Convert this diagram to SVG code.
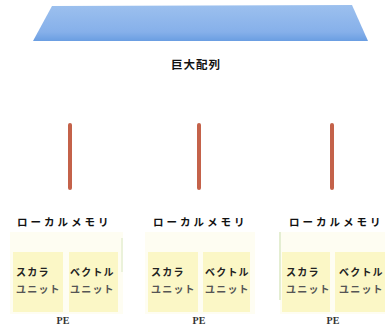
<svg xmlns="http://www.w3.org/2000/svg" width="385" height="329" viewBox="0 0 385 329">
<defs>
<linearGradient id="bar" x1="0" y1="0" x2="0" y2="1">
<stop offset="0" stop-color="#9cc0ee"/>
<stop offset="0.75" stop-color="#86b0ea"/>
<stop offset="1" stop-color="#6a9ee2"/>
</linearGradient>
<style>
.lbl{font-family:"Noto Sans CJK JP","Noto Sans",sans-serif;font-weight:bold;fill:#111}
.lm{font-size:10.5px;letter-spacing:3px}
.u{font-family:"Noto Sans CJK JP",sans-serif;font-size:10px;font-weight:bold;fill:#222;letter-spacing:1.2px}
.u2{fill:#555}
.pe{font-family:"Liberation Serif",serif;font-size:10px;font-weight:bold;fill:#333}
.box{fill:#fbf7c6}
.outer{fill:#fefdf2}
.link{stroke:#c4624a;stroke-width:4;stroke-linecap:round}
</style>
</defs>
<g id="array">
<polygon points="52,6 352,5 368,41 33,41" fill="url(#bar)"/>
<text class="lbl" x="196" y="69" font-size="11.5" text-anchor="middle" letter-spacing="1">巨大配列</text>
</g>
<g id="connectors">
<line class="link" x1="70" y1="125" x2="70" y2="188"/>
<line class="link" x1="199" y1="125" x2="199" y2="188"/>
<line class="link" x1="332" y1="125" x2="332" y2="188"/>
</g>
<g id="pe1">
<rect class="outer" x="10" y="232" width="113" height="82"/>
<line x1="122" y1="238" x2="122" y2="272" stroke="#e4eed2" stroke-width="1.5"/>
<text class="lbl lm" x="17" y="226">ローカルメモリ</text>
<rect class="box" x="13" y="252" width="50" height="60"/>
<rect class="box" x="69" y="252" width="49" height="60"/>
<text class="u" x="16" y="276">スカラ</text>
<text class="u" x="70" y="276">ベクトル</text>
<text class="u u2" x="16" y="293">ユニット</text>
<text class="u u2" x="70" y="293">ユニット</text>
<text class="pe" x="63" y="324" text-anchor="middle">PE</text>
</g>
<g id="pe2">
<rect class="outer" x="145" y="232" width="110" height="82"/>
<text class="lbl lm" x="153" y="226">ローカルメモリ</text>
<rect class="box" x="148" y="252" width="50" height="60"/>
<rect class="box" x="203" y="252" width="47" height="60"/>
<text class="u" x="151" y="276">スカラ</text>
<text class="u" x="205" y="276">ベクトル</text>
<text class="u u2" x="151" y="293">ユニット</text>
<text class="u u2" x="205" y="293">ユニット</text>
<text class="pe" x="199" y="324" text-anchor="middle">PE</text>
</g>
<g id="pe3">
<rect class="outer" x="280" y="232" width="105" height="82"/>
<line x1="280" y1="232" x2="280" y2="300" stroke="#e4eed2" stroke-width="2"/>
<text class="lbl lm" x="289" y="226">ローカルメモリ</text>
<rect class="box" x="282" y="252" width="48" height="60"/>
<rect class="box" x="335" y="252" width="50" height="60"/>
<text class="u" x="286" y="276">スカラ</text>
<text class="u" x="339" y="276">ベクトル</text>
<text class="u u2" x="286" y="293">ユニット</text>
<text class="u u2" x="339" y="293">ユニット</text>
<text class="pe" x="333" y="324" text-anchor="middle">PE</text>
</g>
</svg>
